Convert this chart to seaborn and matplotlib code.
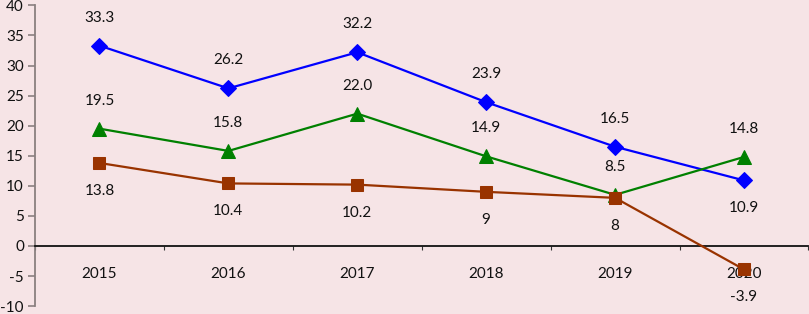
import numpy as np
import pandas as pd
import matplotlib
matplotlib.use("Agg")
import matplotlib.pyplot as plt
import seaborn as sns

years = ["2015", "2016", "2017", "2018", "2019", "2020"]
blue_vals = [33.3, 26.2, 32.2, 23.9, 16.5, 10.9]
green_vals = [19.5, 15.8, 22.0, 14.9, 8.5, 14.8]
brown_vals = [13.8, 10.4, 10.2, 9, 8, -3.9]
blue_labels = ["33.3", "26.2", "32.2", "23.9", "16.5", "10.9"]
green_labels = ["19.5", "15.8", "22.0", "14.9", "8.5", "14.8"]
brown_labels = ["13.8", "10.4", "10.2", "9", "8", "-3.9"]

sns.set_style("white")
plt.rcParams['font.family'] = ['Lato', 'DejaVu Sans']
plt.rcParams['axes.unicode_minus'] = False

bg = "#F6E4E6"
fig = plt.figure(figsize=(8.09, 3.14), dpi=100, facecolor=bg)
ax = fig.add_axes([0.0433, 0.025, 0.956, 0.958])
ax.set_facecolor(bg)

x = np.arange(len(years))
series = [
    (blue_vals, "#0000FF", "D", 8),
    (green_vals, "#008000", "^", 10),
    (brown_vals, "#993300", "s", 8),
]
for vals, col, mk, ms in series:
    df = pd.DataFrame({"x": x, "y": vals})
    sns.lineplot(data=df, x="x", y="y", ax=ax, color=col, linewidth=1.6,
                 marker=mk, markersize=ms, markeredgecolor=col, zorder=3)

# value labels: blue & green above, brown below (last blue below)
fs = 11
for i in range(len(years)):
    off = -28 if i == 5 else 28
    ax.annotate(blue_labels[i], (x[i], blue_vals[i]), xytext=(0, off),
                textcoords="offset pixels", ha="center", va="center",
                fontsize=fs, color="#111111")
    ax.annotate(green_labels[i], (x[i], green_vals[i]), xytext=(0, 28),
                textcoords="offset pixels", ha="center", va="center",
                fontsize=fs, color="#111111")
    ax.annotate(brown_labels[i], (x[i], brown_vals[i]), xytext=(0, -28),
                textcoords="offset pixels", ha="center", va="center",
                fontsize=fs, color="#111111")

ax.set_xlim(-0.5, 5.5)
ax.set_ylim(-10, 40)
ax.set_yticks(np.arange(-10, 41, 5))
ax.set_xticks(x)
ax.set_xticklabels(years)
ax.set_xticks(np.arange(-0.5, 5.6, 1), minor=True)
ax.set_xlabel("")
ax.set_ylabel("")

for s in ["top", "right"]:
    ax.spines[s].set_visible(False)
ax.spines["bottom"].set_position(("data", 0))
ax.spines["bottom"].set_color("#111111")
ax.spines["bottom"].set_linewidth(1.3)
ax.spines["left"].set_color("#8A8080")
ax.spines["left"].set_linewidth(1.3)

ax.tick_params(axis="y", which="major", direction="out", length=5, width=1.2,
               color="#8A8080", labelsize=fs, labelcolor="#111111", pad=3, left=True)
ax.tick_params(axis="x", which="major", length=0, pad=15, labelsize=fs,
               labelcolor="#111111", bottom=True)
ax.tick_params(axis="x", which="minor", direction="out", length=3, width=0.8,
               color="#333333", bottom=True)

fig.savefig("out.png", dpi=100, facecolor=bg)
